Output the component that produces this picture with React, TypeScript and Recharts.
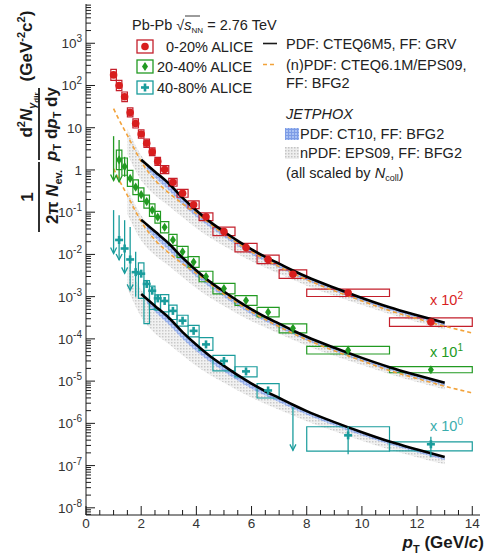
import React from 'react';
import { ComposedChart, XAxis, YAxis, Line, Area, Scatter, ErrorBar, ReferenceArea } from 'recharts';

document.body.style.margin = '0';

// ALICE direct photon bins (GeV/c)
const ptCenters = [1.0, 1.2, 1.4, 1.6, 1.8, 2.0, 2.2, 2.4, 2.6, 2.85, 3.15, 3.5, 3.9, 4.35, 5.0, 5.8, 6.6, 7.5, 9.5, 12.5];
const binLo = [0.9, 1.1, 1.3, 1.5, 1.7, 1.9, 2.1, 2.3, 2.5, 2.7, 3.0, 3.3, 3.7, 4.1, 4.6, 5.4, 6.2, 7.0, 8.0, 11.0];
const binHi = [1.1, 1.3, 1.5, 1.7, 1.9, 2.1, 2.3, 2.5, 2.7, 3.0, 3.3, 3.7, 4.1, 4.6, 5.4, 6.2, 7.0, 8.0, 11.0, 14.0];

// 0-20% (x 10^2)
const redYield = [178, 100, 54, 23, 12.6, 7.1, 4.3, 2.7, 1.6, 1.02, 0.51, 0.28, 0.15, 0.078, 0.035, 0.0145, 0.0076, 0.0034, 0.00123, 0.00025];
const redSys = [0.35, 0.32, 0.3, 0.28, 0.28, 0.26, 0.25, 0.24, 0.24, 0.24, 0.24, 0.24, 0.24, 0.24, 0.26, 0.26, 0.26, 0.26, 0.22, 0.26];

// 20-40% (x 10^1)
const greenYield = [null, 1.74, 1.2, 0.63, 0.39, 0.26, 0.178, 0.112, 0.076, 0.044, 0.022, 0.0115, 0.0066, 0.003, 0.00155, 8.1e-4, 4.3e-4, 1.78e-4, 5.4e-5, 1.86e-5];
const greenSys = [null, 0.7, 0.6, 0.55, 0.5, 0.45, 0.42, 0.4, 0.38, 0.36, 0.35, 0.35, 0.34, 0.33, 0.33, 0.3, 0.3, 0.28, 0.23, 0.18];
const greenStatLo = [null, 0.525, 0.69, null, null, null, null, null, null, null, null, null, null, null, null, null, null, null, null, null];
const greenStatHi = [null, 5.13, 2.04, null, null, null, null, null, null, null, null, null, null, null, null, null, null, null, null, null];
const greenArrowPt = [1.2];
const greenLimitPt = [1.0];
const greenLimitTop = [6.31];
const greenLimitTip = [0.562];

// 40-80% (x 10^0)
const tealYield = [null, 0.022, 0.0138, 0.0076, 0.0038, 0.0035, 0.002, 0.00138, 9.1e-4, 7.9e-4, 4.6e-4, 2.7e-4, 1.55e-4, 7.4e-5, 3.0e-5, 1.7e-5, 6.0e-6, null, 5.2e-7, 3.2e-7];
const tealBoxLo = [null, null, null, null, null, 9.12e-4, 2.29e-4, 5.01e-4, 4.79e-4, 4.37e-4, 2.88e-4, 2.0e-4, 1.12e-4, 5.37e-5, 1.74e-5, 1.26e-5, 3.98e-6, null, 2.19e-7, 2.24e-7];
const tealBoxHi = [null, null, null, null, null, 6.31e-3, 2.4e-3, 1.78e-3, 1.1e-3, 1.12e-3, 6.31e-4, 3.63e-4, 2.09e-4, 1.07e-4, 4.07e-5, 2.19e-5, 8.71e-6, null, 8.32e-7, 3.63e-7];
const tealStatLo = [null, 7.41e-3, 3.55e-3, 1.41e-3, 1.0e-3, null, null, null, null, null, null, null, null, null, null, null, null, null, 1.86e-7, 1.585e-7];
const tealStatHi = [null, 0.0851, 0.0646, 0.0447, 0.0115, null, null, null, null, null, null, null, null, null, null, null, null, null, 8.32e-7, 4.79e-7];
const tealArrowPt = [1.2, 1.4, 1.6];
const tealLimitPt = [1.0, 7.5];
const tealLimitTop = [0.112, 2.45e-6];
const tealLimitTip = [0.0105, 2.29e-7];

// PDF: CTEQ6M5, FF: GRV (black)
const pdfPt = [2, 2.5, 3, 3.5, 4, 4.5, 5, 5.5, 6, 6.5, 7, 7.5, 8, 9, 10, 11, 12, 13];
const redPdf = [1.74, 0.912, 0.479, 0.219, 0.11, 0.0589, 0.0347, 0.0209, 0.0132, 0.00871, 0.00603, 0.00417, 0.00295, 0.00162, 9.33e-4, 5.62e-4, 3.63e-4, 2.4e-4];
const greenPdf = [0.0661, 0.0347, 0.0182, 0.00832, 0.00418, 0.00224, 0.00132, 7.94e-4, 5.02e-4, 3.31e-4, 2.29e-4, 1.58e-4, 1.12e-4, 6.16e-5, 3.55e-5, 2.14e-5, 1.38e-5, 9.1e-6];
const tealPdf = [1.15e-3, 6.03e-4, 3.17e-4, 1.45e-4, 7.27e-5, 3.89e-5, 2.29e-5, 1.38e-5, 8.73e-6, 5.76e-6, 3.99e-6, 2.76e-6, 1.95e-6, 1.07e-6, 6.17e-7, 3.71e-7, 2.4e-7, 1.59e-7];

// (n)PDF: CTEQ6.1M/EPS09, FF: BFG2 (orange dashed)
const npdfPt = [1, 1.25, 1.5, 1.75, 2, 2.5, 3, 3.5, 4, 5, 6, 7, 8, 9, 10, 11, 12, 13, 14];
const redNpdf = [28.2, 13.2, 6.61, 3.16, 1.585, 0.575, 0.288, 0.158, 0.0933, 0.0302, 0.0115, 0.00513, 0.00251, 0.00138, 7.94e-4, 4.68e-4, 3.02e-4, 2.0e-4, 1.38e-4];
const greenNpdf = [1.07, 0.502, 0.251, 0.12, 0.0602, 0.0219, 0.01094, 0.006, 0.00355, 0.00115, 4.37e-4, 1.95e-4, 9.54e-5, 5.24e-5, 3.02e-5, 1.78e-5, 1.15e-5, 7.6e-6, 5.24e-6];

// JETPHOX PDF: CT10 band (blue)
const ct10Pt = [2.2, 2.5, 3, 3.5, 4, 5, 6, 7, 8, 9, 10, 11, 12, 13];
const redCt10Lo = [1.072, 0.661, 0.331, 0.151, 0.0776, 0.0257, 0.01, 0.00479, 0.0024, 0.00135, 7.76e-4, 4.79e-4, 3.09e-4, 2.04e-4];
const redCt10Hi = [1.38, 0.933, 0.49, 0.224, 0.112, 0.0355, 0.0135, 0.00617, 0.00302, 0.00166, 9.55e-4, 5.75e-4, 3.72e-4, 2.45e-4];
const greenCt10Lo = [0.0407, 0.0251, 0.0126, 0.00574, 0.00295, 9.77e-4, 3.8e-4, 1.82e-4, 9.1e-5, 5.13e-5, 2.95e-5, 1.82e-5, 1.17e-5, 7.75e-6];
const greenCt10Hi = [0.0524, 0.0355, 0.0186, 0.00851, 0.00426, 0.00135, 5.13e-4, 2.34e-4, 1.15e-4, 6.31e-5, 3.63e-5, 2.19e-5, 1.41e-5, 9.3e-6];
const tealCt10Lo = [7.09e-4, 4.37e-4, 2.19e-4, 1.0e-4, 5.13e-5, 1.7e-5, 6.6e-6, 3.17e-6, 1.59e-6, 8.9e-7, 5.13e-7, 3.17e-7, 2.04e-7, 1.35e-7];
const tealCt10Hi = [9.12e-4, 6.17e-4, 3.24e-4, 1.48e-4, 7.4e-5, 2.35e-5, 8.9e-6, 4.08e-6, 2.0e-6, 1.1e-6, 6.31e-7, 3.8e-7, 2.46e-7, 1.62e-7];

// JETPHOX nPDF: EPS09 band (grey)
const eps09Pt = [1.5, 2, 2.5, 3, 3.5, 4, 5, 6, 7, 8, 9, 10, 11, 12, 13];
const redEps09Lo = [2.34, 0.562, 0.251, 0.141, 0.0759, 0.0417, 0.0158, 0.00692, 0.00347, 0.00182, 0.00105, 6.31e-4, 3.89e-4, 2.51e-4, 1.66e-4];
const redEps09Hi = [9.33, 2.24, 0.912, 0.479, 0.219, 0.11, 0.0347, 0.0132, 0.00603, 0.00295, 0.00162, 9.33e-4, 5.62e-4, 3.63e-4, 2.4e-4];
const greenEps09Lo = [0.0889, 0.0214, 0.00954, 0.00536, 0.00288, 0.00158, 6.0e-4, 2.63e-4, 1.32e-4, 6.92e-5, 3.99e-5, 2.4e-5, 1.48e-5, 9.5e-6, 6.3e-6];
const greenEps09Hi = [0.355, 0.0851, 0.0347, 0.0182, 0.00832, 0.00418, 0.00132, 5.02e-4, 2.29e-4, 1.12e-4, 6.16e-5, 3.55e-5, 2.14e-5, 1.38e-5, 9.1e-6];
const tealEps09Lo = [1.55e-3, 3.31e-4, 1.35e-4, 7.59e-5, 4.07e-5, 2.29e-5, 9.12e-6, 4.07e-6, 2.09e-6, 1.12e-6, 6.46e-7, 3.89e-7, 2.4e-7, 1.585e-7, 1.07e-7];
const tealEps09Hi = [6.17e-3, 1.48e-3, 6.03e-4, 3.17e-4, 1.45e-4, 7.27e-5, 2.29e-5, 8.73e-6, 3.99e-6, 1.95e-6, 1.07e-6, 6.17e-7, 3.71e-7, 2.4e-7, 1.59e-7];

// axis ticks
const xTicks = [0, 0.5, 1, 1.5, 2, 2.5, 3, 3.5, 4, 4.5, 5, 5.5, 6, 6.5, 7, 7.5, 8, 8.5, 9, 9.5, 10, 10.5, 11, 11.5, 12, 12.5, 13, 13.5, 14];
const xMajor = [0, 2, 4, 6, 8, 10, 12, 14];
const yDecades = [-9, -8, -7, -6, -5, -4, -3, -2, -1, 0, 1, 2, 3];
const yMinorSteps = [1, 2, 3, 4, 5, 6, 7, 8, 9];

const X_DOMAIN: [number, number] = [0, 14.28];
const Y_DOMAIN: [number, number] = [6.76e-9, 8.5e3];

const yTicks: number[] = [];
yDecades.forEach(d => yMinorSteps.forEach(m => {
  const v = m * Math.pow(10, d);
  if (v >= Y_DOMAIN[0] && v <= Y_DOMAIN[1]) yTicks.push(v);
}));

const RED = '#d81e1e';
const RED_BOX = '#c41f2b';
const GREEN = '#229a22';
const TEAL = '#1a9c9c';
const ORANGE = '#f2a23a';
const FONT = '"Liberation Sans", Arial, sans-serif';
const INK = '#1a1a1a';

const curve = (pts: number[], vals: number[]) => pts.map((x, i) => ({ x, y: vals[i] }));
const band = (pts: number[], lo: number[], hi: number[]) => pts.map((x, i) => ({ x, band: [lo[i], hi[i]] }));

const pointRows = (vals: (number | null)[], lo?: (number | null)[], hi?: (number | null)[]) =>
  ptCenters
    .map((x, i) => {
      const y = vals[i];
      if (y == null) return null;
      const l = lo && lo[i] != null ? y - (lo[i] as number) : 0;
      const h = hi && hi[i] != null ? (hi[i] as number) - y : 0;
      return { x, y, err: [l, h] };
    })
    .filter(Boolean) as { x: number; y: number; err: number[] }[];

const arrowRows = (arrowPts: number[], lo: (number | null)[], limPt: number[], limTop: number[], limTip: number[]) => [
  ...arrowPts.map(pt => ({ x: pt, y: lo[ptCenters.indexOf(pt)] as number, err: [0, 0] })),
  ...limPt.map((pt, i) => ({ x: pt, y: limTip[i], err: [0, limTop[i] - limTip[i]] })),
];

const symBoxes = (vals: (number | null)[], sys: (number | null)[]) =>
  ptCenters
    .map((_, i) => (vals[i] == null || sys[i] == null ? null : {
      x1: binLo[i], x2: binHi[i],
      y1: (vals[i] as number) / (1 + (sys[i] as number)), y2: (vals[i] as number) * (1 + (sys[i] as number)),
    }))
    .filter(Boolean) as { x1: number; x2: number; y1: number; y2: number }[];

const boundBoxes = (lo: (number | null)[], hi: (number | null)[]) =>
  ptCenters
    .map((_, i) => (lo[i] == null || hi[i] == null ? null : { x1: binLo[i], x2: binHi[i], y1: lo[i] as number, y2: hi[i] as number }))
    .filter(Boolean) as { x1: number; x2: number; y1: number; y2: number }[];

const redBoxes = symBoxes(redYield, redSys);
const greenBoxes = symBoxes(greenYield, greenSys);
const tealBoxes = boundBoxes(tealBoxLo, tealBoxHi);

const Circle = ({ cx, cy }: any) => <circle cx={cx} cy={cy} r={3.8} fill={RED} />;
const Diamond = ({ cx, cy }: any) => (
  <polygon points={`${cx},${cy - 4.6} ${cx + 3},${cy} ${cx},${cy + 4.6} ${cx - 3},${cy}`} fill={GREEN} />
);
const Plus = ({ cx, cy }: any) => (
  <g fill={TEAL}>
    <rect x={cx - 4} y={cy - 1.3} width={8} height={2.6} />
    <rect x={cx - 1.3} y={cy - 4} width={2.6} height={8} />
  </g>
);
const arrowHead = (color: string) => ({ cx, cy }: any) => (
  <polyline points={`${cx - 3},${cy - 6} ${cx},${cy} ${cx + 3},${cy - 6}`} fill="none" stroke={color} strokeWidth={1.3} />
);

const isMajorY = (v: number) => {
  const n = Math.round(Math.log10(v));
  return Math.abs(v / Math.pow(10, n) - 1) < 1e-6;
};

const LeftTick = ({ x, y, payload }: any) => {
  const v = payload.value;
  const major = isMajorY(v);
  const n = Math.round(Math.log10(v));
  return (
    <g>
      <line x1={x} x2={x + (major ? 9 : 5)} y1={y} y2={y} stroke={INK} strokeWidth={1} />
      {major && (
        <text x={x - 4} y={y + 5} textAnchor="end" fontSize={13.5} fontFamily={FONT} fill="#333">
          {n === 0 ? '1' : n === 1 ? '10' : <>10<tspan dy={-6} fontSize={10}>{n}</tspan></>}
        </text>
      )}
    </g>
  );
};

const RightTick = ({ x, y, payload }: any) => (
  <line x1={x} x2={x - (isMajorY(payload.value) ? 9 : 5)} y1={y} y2={y} stroke={INK} strokeWidth={1} />
);

const BottomTick = ({ x, y, payload }: any) => {
  const major = xMajor.includes(payload.value);
  return (
    <g>
      <line x1={x} x2={x} y1={y} y2={y - (major ? 9 : 5)} stroke={INK} strokeWidth={1} />
      {major && (
        <text x={x} y={y + 13} textAnchor="middle" fontSize={13.5} fontFamily={FONT} fill="#333">{payload.value}</text>
      )}
    </g>
  );
};

const TopTick = ({ x, y, payload }: any) => (
  <line x1={x} x2={x} y1={y} y2={y + (xMajor.includes(payload.value) ? 9 : 5)} stroke={INK} strokeWidth={1} />
);

const Overlay = () => (
  <svg width={486} height={559} style={{ position: 'absolute', left: 0, top: 0, pointerEvents: 'none' }} fontFamily={FONT}>
    {/* y title */}
    <g transform="translate(0,290) rotate(-90)" fontWeight="bold" fontSize={17} fill={INK}>
      <text x={93} y={33} textAnchor="middle">1</text>
      <line x1={58} x2={128} y1={39} y2={39} stroke={INK} strokeWidth={1.8} />
      <text x={93} y={58} textAnchor="middle">2π <tspan fontStyle="italic">N</tspan><tspan fontSize={11} dy={4}>ev.</tspan></text>
      <text x={175} y={32} textAnchor="middle">
        d<tspan fontSize={11} dy={-7}>2</tspan><tspan dy={7} fontStyle="italic">N</tspan>
        <tspan fontSize={11} dy={4} fontStyle="italic">γ</tspan><tspan fontSize={8} dy={3}>dir</tspan>
      </text>
      <line x1={130} x2={202} y1={39} y2={39} stroke={INK} strokeWidth={1.8} />
      <text x={166} y={57} textAnchor="middle">
        <tspan fontStyle="italic">p</tspan><tspan fontSize={11} dy={4}>T</tspan>
        <tspan dy={-4}> d</tspan><tspan fontStyle="italic">p</tspan><tspan fontSize={11} dy={4}>T</tspan>
        <tspan dy={-4}> dy</tspan>
      </text>
      <text x={244} y={32} textAnchor="middle">
        (GeV<tspan fontSize={11} dy={-7}>-2</tspan><tspan dy={7}>c</tspan><tspan fontSize={11} dy={-7}>2</tspan><tspan dy={7}>)</tspan>
      </text>
    </g>

    {/* x title */}
    <text x={484} y={548} textAnchor="end" fontWeight="bold" fontSize={17} fill={INK}>
      <tspan fontStyle="italic">p</tspan><tspan fontSize={11} dy={5}>T</tspan><tspan dy={-5}> (GeV/</tspan><tspan fontStyle="italic">c</tspan>)
    </text>

    {/* legend, left block */}
    <g fontSize={14.5} fill="#222">
      <text x={132} y={30}>Pb-Pb <tspan>√</tspan><tspan fontStyle="italic">s</tspan><tspan fontSize={8} dy={3}>NN</tspan><tspan dy={-3}> = 2.76 TeV</tspan></text>
      <line x1={185} x2={200} y1={16} y2={16} stroke="#222" strokeWidth={0.9} />
      <rect x={137} y={40} width={16} height={13} fill="#fff" stroke={RED_BOX} strokeWidth={1.3} />
      <Circle cx={145} cy={46.5} />
      <text x={166} y={52}>0-20% ALICE</text>
      <rect x={137} y={60} width={16} height={13} fill="#fff" stroke={GREEN} strokeWidth={1.3} />
      <Diamond cx={145} cy={66.5} />
      <text x={157} y={72}>20-40% ALICE</text>
      <rect x={137} y={81} width={16} height={13} fill="#fff" stroke={TEAL} strokeWidth={1.3} />
      <Plus cx={145} cy={87.5} />
      <text x={157} y={93}>40-80% ALICE</text>
    </g>

    {/* legend, right block */}
    <g fontSize={14.5} fill="#222">
      <line x1={263} x2={277} y1={43.5} y2={43.5} stroke={INK} strokeWidth={1.6} />
      <text x={286} y={49}>PDF: CTEQ6M5, FF: GRV</text>
      <line x1={263} x2={277} y1={64.5} y2={64.5} stroke={ORANGE} strokeWidth={1.6} strokeDasharray="4 3" />
      <text x={286} y={70}>(n)PDF: CTEQ6.1M/EPS09,</text>
      <text x={286} y={88}>FF: BFG2</text>
      <text x={286} y={119} fontStyle="italic">JETPHOX</text>
      <rect x={285} y={128} width={14} height={12} fill="url(#hatchBlueL)" />
      <text x={300} y={139}>PDF: CT10, FF: BFG2</text>
      <rect x={285} y={147} width={14} height={12} fill="url(#dotsGreyL)" />
      <text x={300} y={158}>nPDF: EPS09, FF: BFG2</text>
      <text x={286} y={178}>(all scaled by <tspan fontStyle="italic">N</tspan><tspan fontSize={9} dy={3}>coll</tspan><tspan dy={-3}>)</tspan></text>
      <defs>
        <pattern id="hatchBlueL" width="3" height="3" patternUnits="userSpaceOnUse">
          <rect width="3" height="3" fill="#a9c1f3" />
          <rect width="1" height="3" fill="#7d9ce6" />
          <rect width="3" height="1" fill="#7d9ce6" />
        </pattern>
        <pattern id="dotsGreyL" width="3" height="3" patternUnits="userSpaceOnUse">
          <rect width="3" height="3" fill="#eeeeee" />
          <rect width="1.5" height="1.5" fill="#c4c4c4" />
        </pattern>
      </defs>
    </g>

    {/* scale factors */}
    <g fontSize={14.5}>
      <text x={430} y={305} fill={RED}>x 10<tspan dy={-6} fontSize={10}>2</tspan></text>
      <text x={430} y={357} fill={GREEN}>x 10<tspan dy={-6} fontSize={10}>1</tspan></text>
      <text x={430} y={431} fill="#3aadad">x 10<tspan dy={-6} fontSize={10}>0</tspan></text>
    </g>
  </svg>
);

const groups = [
  { key: 'red', eps: band(eps09Pt, redEps09Lo, redEps09Hi), ct: band(ct10Pt, redCt10Lo, redCt10Hi), pdf: curve(pdfPt, redPdf), npdf: curve(npdfPt, redNpdf) },
  { key: 'green', eps: band(eps09Pt, greenEps09Lo, greenEps09Hi), ct: band(ct10Pt, greenCt10Lo, greenCt10Hi), pdf: curve(pdfPt, greenPdf), npdf: curve(npdfPt, greenNpdf) },
  { key: 'teal', eps: band(eps09Pt, tealEps09Lo, tealEps09Hi), ct: band(ct10Pt, tealCt10Lo, tealCt10Hi), pdf: curve(pdfPt, tealPdf), npdf: null },
];

export default function App() {
  const redRows = pointRows(redYield);
  const greenRows = pointRows(greenYield, greenStatLo, greenStatHi);
  const tealRows = pointRows(tealYield, tealStatLo, tealStatHi);
  const greenArrows = arrowRows(greenArrowPt, greenStatLo, greenLimitPt, greenLimitTop, greenLimitTip);
  const tealArrows = arrowRows(tealArrowPt, tealStatLo, tealLimitPt, tealLimitTop, tealLimitTip);

  return (
    <div style={{ position: 'relative', width: 486, height: 559, background: '#fff' }}>
      <ComposedChart width={486} height={559} margin={{ top: 4, right: 6, bottom: 0, left: 0 }}>
        <defs>
          <pattern id="dotsGrey" width="3" height="3" patternUnits="userSpaceOnUse">
            <rect width="3" height="3" fill="#f1f1f1" />
            <rect width="1.5" height="1.5" fill="#c9c9c9" />
          </pattern>
          <pattern id="hatchBlue" width="3" height="3" patternUnits="userSpaceOnUse">
            <rect width="3" height="3" fill="#b3c8f5" />
            <rect width="1" height="3" fill="#8aa6ea" />
            <rect width="3" height="1" fill="#8aa6ea" />
          </pattern>
        </defs>
        <XAxis type="number" dataKey="x" domain={X_DOMAIN} allowDataOverflow ticks={xTicks} interval={0}
          height={44} tickSize={0} tickMargin={0} tick={<BottomTick />} axisLine={{ stroke: INK }} tickLine={false} />
        <XAxis xAxisId="t" orientation="top" type="number" dataKey="x" domain={X_DOMAIN} allowDataOverflow ticks={xTicks}
          interval={0} height={0} tickSize={0} tickMargin={0} tick={<TopTick />} axisLine={{ stroke: INK }} tickLine={false} />
        <YAxis type="number" dataKey="y" scale="log" domain={Y_DOMAIN} allowDataOverflow ticks={yTicks} interval={0}
          width={86} tickSize={0} tickMargin={0} tick={<LeftTick />} axisLine={{ stroke: INK }} tickLine={false} />
        <YAxis yAxisId="r" orientation="right" type="number" dataKey="y" scale="log" domain={Y_DOMAIN} allowDataOverflow
          ticks={yTicks} interval={0} width={0} tickSize={0} tickMargin={0} tick={<RightTick />} axisLine={{ stroke: INK }} tickLine={false} />

        {groups.map(g => (
          <Area key={`eps-${g.key}`} data={g.eps} dataKey="band" type="monotone" stroke="none"
            fill="url(#dotsGrey)" fillOpacity={1} isAnimationActive={false} />
        ))}
        {groups.map(g => (
          <Area key={`ct-${g.key}`} data={g.ct} dataKey="band" type="monotone" stroke="none"
            fill="url(#hatchBlue)" fillOpacity={0.9} isAnimationActive={false} />
        ))}
        {groups.map(g => g.npdf && (
          <Line key={`np-${g.key}`} data={g.npdf} dataKey="y" type="monotone" stroke={ORANGE} strokeWidth={1.6}
            strokeDasharray="4 3" dot={false} isAnimationActive={false} />
        ))}
        {groups.map(g => (
          <Line key={`pdf-${g.key}`} data={g.pdf} dataKey="y" type="monotone" stroke="#000" strokeWidth={2.6}
            dot={false} isAnimationActive={false} />
        ))}

        {redBoxes.map((b, i) => (
          <ReferenceArea key={`rb${i}`} x1={b.x1} x2={b.x2} y1={b.y1} y2={b.y2} fill="none" stroke={RED_BOX} strokeWidth={1.2} />
        ))}
        {greenBoxes.map((b, i) => (
          <ReferenceArea key={`gb${i}`} x1={b.x1} x2={b.x2} y1={b.y1} y2={b.y2} fill="none" stroke={GREEN} strokeWidth={1.2} />
        ))}
        {tealBoxes.map((b, i) => (
          <ReferenceArea key={`tb${i}`} x1={b.x1} x2={b.x2} y1={b.y1} y2={b.y2} fill="none" stroke={TEAL} strokeWidth={1.2} />
        ))}

        <Scatter data={redRows} shape={Circle} isAnimationActive={false} />
        <Scatter data={greenRows} shape={Diamond} isAnimationActive={false}>
          <ErrorBar dataKey="err" direction="y" width={0} stroke={GREEN} strokeWidth={1.3} />
        </Scatter>
        <Scatter data={greenArrows} shape={arrowHead(GREEN)} isAnimationActive={false}>
          <ErrorBar dataKey="err" direction="y" width={0} stroke={GREEN} strokeWidth={1.3} />
        </Scatter>
        <Scatter data={tealRows} shape={Plus} isAnimationActive={false}>
          <ErrorBar dataKey="err" direction="y" width={0} stroke={TEAL} strokeWidth={1.3} />
        </Scatter>
        <Scatter data={tealArrows} shape={arrowHead(TEAL)} isAnimationActive={false}>
          <ErrorBar dataKey="err" direction="y" width={0} stroke={TEAL} strokeWidth={1.3} />
        </Scatter>
      </ComposedChart>
      <Overlay />
    </div>
  );
}
